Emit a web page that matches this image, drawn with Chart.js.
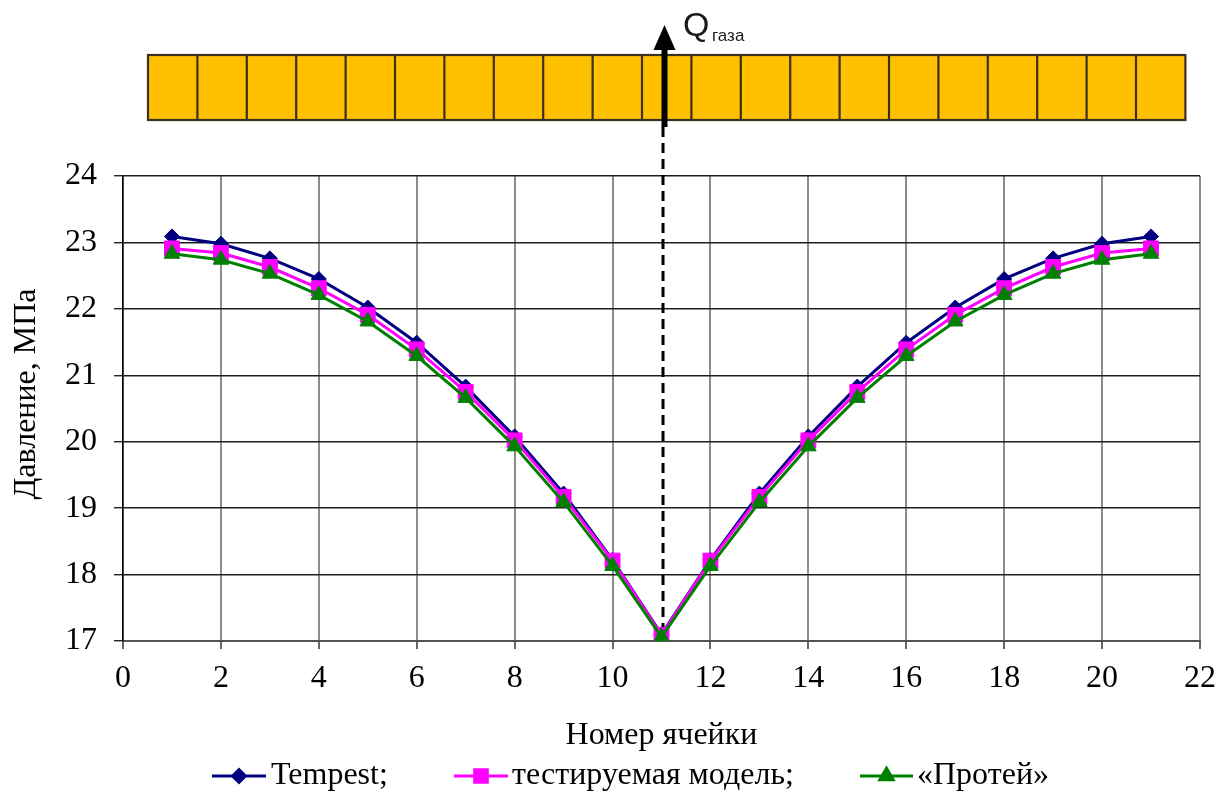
<!DOCTYPE html>
<html>
<head>
<meta charset="utf-8">
<script src="https://cdn.jsdelivr.net/npm/chart.js@4.4.1/dist/chart.umd.min.js"></script>
<style>
  html, body { margin: 0; padding: 0; background: #ffffff; }
  #wrap { position: relative; width: 1218px; height: 794px; }
</style>
</head>
<body>
<div id="wrap"><canvas id="chart" width="1218" height="794"></canvas></div>
<script>
// Cell numbers along the reservoir row
const cells = [1, 2, 3, 4, 5, 6, 7, 8, 9, 10, 11, 12, 13, 14, 15, 16, 17, 18, 19, 20, 21];

// Pressure per cell, MPa
const tempest   = [23.09, 22.98, 22.76, 22.45, 22.02, 21.49, 20.83, 20.08, 19.22, 18.22, 17.10,
                   18.22, 19.22, 20.08, 20.83, 21.49, 22.02, 22.45, 22.76, 22.98, 23.09];
const testModel = [22.91, 22.84, 22.63, 22.31, 21.91, 21.39, 20.75, 20.02, 19.17, 18.21, 17.09,
                   18.21, 19.17, 20.02, 20.75, 21.39, 21.91, 22.31, 22.63, 22.84, 22.91];
const proteus   = [22.83, 22.74, 22.53, 22.21, 21.81, 21.29, 20.66, 19.93, 19.09, 18.13, 17.06,
                   18.13, 19.09, 19.93, 20.66, 21.29, 21.81, 22.21, 22.53, 22.74, 22.83];

// Axis ranges and ticks
const xTicks = [0, 2, 4, 6, 8, 10, 12, 14, 16, 18, 20, 22];
const yTicks = [17, 18, 19, 20, 21, 22, 23, 24];

// Cell with the production well
const wellCell = 11;

const seriesNames = ['Tempest;', 'тестируемая модель;', '«Протей»'];
const seriesColors = ['#000080', '#ff00ff', '#008000'];
const seriesMarkers = ['rectRot', 'rect', 'triangle'];
const markerRadius = [7.5, 10.5, 9];

const SERIF = '"Liberation Serif", "Times New Roman", serif';
const SANS = '"Liberation Sans", Arial, sans-serif';

function pts(values) {
  return cells.map((c, i) => ({ x: c, y: values[i] }));
}

// Cells strip, flow arrow, well line, y title and legend
const decor = {
  id: 'decor',
  beforeDatasetsDraw(chart) {
    const ctx = chart.ctx;
    const xs = chart.scales.x, ys = chart.scales.y;
    const xw = Math.round(xs.getPixelForValue(wellCell)) + 1;
    ctx.save();
    ctx.strokeStyle = '#000';
    ctx.lineWidth = 3;
    ctx.setLineDash([10, 6]);
    ctx.beginPath();
    ctx.moveTo(xw, 127);
    ctx.lineTo(xw, ys.getPixelForValue(yTicks[0]));
    ctx.stroke();
    ctx.restore();
  },
  afterDraw(chart) {
    const ctx = chart.ctx;
    const xs = chart.scales.x;
    ctx.save();

    // strip of reservoir cells
    const top = 55, bottom = 120, left = 148, cellW = 49.4;
    const right = left + cellW * cells.length;
    ctx.fillStyle = '#ffc000';
    ctx.fillRect(left, top, right - left, bottom - top);
    ctx.strokeStyle = '#3a3120';
    ctx.lineWidth = 2.2;
    ctx.strokeRect(left, top, right - left, bottom - top);
    ctx.beginPath();
    for (let i = 1; i < cells.length; i++) {
      const xb = left + cellW * i;
      ctx.moveTo(xb, top);
      ctx.lineTo(xb, bottom);
    }
    ctx.stroke();

    // gas flow arrow
    const xa = Math.round(xs.getPixelForValue(wellCell)) + 2.5;
    ctx.fillStyle = '#000';
    ctx.fillRect(xa - 3, 46, 6, 81);
    ctx.beginPath();
    ctx.moveTo(xa, 25);
    ctx.lineTo(xa + 11, 50);
    ctx.lineTo(xa - 11, 50);
    ctx.closePath();
    ctx.fill();

    // Q label
    ctx.fillStyle = '#1a1a1a';
    ctx.textBaseline = 'alphabetic';
    ctx.textAlign = 'left';
    ctx.font = '34px ' + SANS;
    ctx.fillText('Q', 683, 36);
    ctx.font = '17px ' + SANS;
    ctx.fillText('газа', 712, 41);

    // y axis title
    ctx.fillStyle = '#000';
    ctx.font = '32px ' + SERIF;
    ctx.textAlign = 'center';
    ctx.textBaseline = 'middle';
    ctx.translate(27, 394);
    ctx.rotate(-Math.PI / 2);
    ctx.fillText('Давление, МПа', 0, 0);
    ctx.restore();

    // legend
    ctx.save();
    const ly = 776;
    const items = [
      { l0: 212, l1: 266, tx: 271 },
      { l0: 454, l1: 508, tx: 512 },
      { l0: 860, l1: 913, tx: 917 }
    ];
    items.forEach((it, i) => {
      ctx.strokeStyle = seriesColors[i];
      ctx.fillStyle = seriesColors[i];
      ctx.lineWidth = 3;
      ctx.beginPath();
      ctx.moveTo(it.l0, ly);
      ctx.lineTo(it.l1, ly);
      ctx.stroke();
      Chart.helpers.drawPoint(ctx, {
        pointStyle: seriesMarkers[i],
        radius: markerRadius[i] * 0.85,
        borderWidth: 1,
        rotation: 0
      }, (it.l0 + it.l1) / 2, ly);
      ctx.fill();
      ctx.fillStyle = '#000';
      ctx.font = '32px ' + SERIF;
      ctx.textAlign = 'left';
      ctx.textBaseline = 'middle';
      ctx.fillText(seriesNames[i], it.tx, ly);
    });
    ctx.restore();
  }
};

const datasets = [tempest, testModel, proteus].map((vals, i) => ({
  label: seriesNames[i],
  data: pts(vals),
  showLine: true,
  borderColor: seriesColors[i],
  backgroundColor: seriesColors[i],
  borderWidth: 3,
  pointStyle: seriesMarkers[i],
  pointRadius: markerRadius[i],
  pointHoverRadius: markerRadius[i],
  pointBorderWidth: 1,
  pointBorderColor: seriesColors[i],
  pointBackgroundColor: seriesColors[i],
  tension: 0,
  order: 3 - i
}));

new Chart(document.getElementById('chart'), {
  type: 'scatter',
  data: { datasets },
  plugins: [decor],
  options: {
    responsive: false,
    animation: false,
    devicePixelRatio: 1,
    layout: { padding: { top: 176, right: 18, left: 0, bottom: 0 } },
    plugins: {
      legend: { display: false },
      tooltip: { enabled: false }
    },
    events: [],
    scales: {
      x: {
        type: 'linear',
        min: xTicks[0],
        max: xTicks[xTicks.length - 1],
        afterBuildTicks(scale) { scale.ticks = xTicks.map(v => ({ value: v })); },
        afterFit(scale) {
          scale.height = 153;
          scale.paddingLeft = 0;
          scale.paddingRight = 0;
        },
        ticks: {
          font: { family: SERIF, size: 32 },
          color: '#000',
          padding: 10,
          maxRotation: 0
        },
        grid: {
          color: '#8c8c8c',
          lineWidth: 2,
          tickLength: 8,
          tickColor: '#000',
          tickWidth: 1.2
        },
        border: { color: '#555', width: 2 },
        title: {
          display: true,
          text: 'Номер ячейки',
          color: '#000',
          font: { family: SERIF, size: 32 },
          padding: { top: 0, bottom: 39 }
        }
      },
      y: {
        type: 'linear',
        min: yTicks[0],
        max: yTicks[yTicks.length - 1],
        afterBuildTicks(scale) { scale.ticks = yTicks.map(v => ({ value: v })); },
        afterFit(scale) { scale.width = 123; },
        ticks: {
          font: { family: SERIF, size: 32 },
          color: '#000',
          padding: 17
        },
        grid: {
          color: '#1e1e1e',
          lineWidth: 1.5,
          tickLength: 9,
          tickColor: '#000',
          tickWidth: 1.2
        },
        border: { color: '#000', width: 1.5 }
      }
    }
  }
});
</script>
</body>
</html>
